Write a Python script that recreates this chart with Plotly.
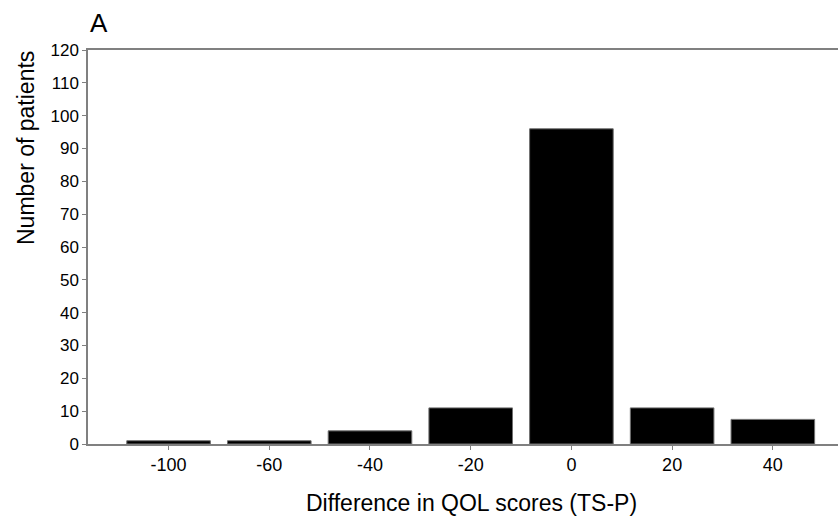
import plotly.graph_objects as go

categories = ["-100", "-60", "-40", "-20", "0", "20", "40"]
counts = [1, 1, 4, 11, 96, 11, 7.5]
y_ticks = list(range(0, 121, 10))

fig = go.Figure()
fig.add_trace(go.Bar(
    x=categories, y=counts, width=0.83,
    marker=dict(color="black", line=dict(color="#707070", width=1)),
))

W, H = 838, 519
ml, mr, mt, mb = 88, 0, 50, 75
pw, ph = W - ml - mr, H - mt - mb
fig.update_layout(
    width=W, height=H,
    margin=dict(l=ml, r=mr, t=mt, b=mb),
    plot_bgcolor="white", paper_bgcolor="white",
    showlegend=False,
    font=dict(family="Liberation Sans, Arial, sans-serif", color="black", size=16),
    xaxis=dict(
        type="category", range=[-0.80, 6.647],
        showline=True, linecolor="#808080", linewidth=1.5, mirror=True,
        ticks="outside", ticklen=4, tickcolor="#808080",
        showgrid=False, zeroline=False,
        tickfont=dict(size=18),
    ),
    yaxis=dict(
        range=[0, 120], tickvals=y_ticks,
        showline=True, linecolor="#808080", linewidth=1.5,
        ticks="outside", ticklen=4, tickcolor="#808080",
        showgrid=False, zeroline=False,
        tickfont=dict(size=17),
    ),
    annotations=[
        dict(text="A", xref="paper", yref="paper", x=0.0, y=1.0, yshift=27,
             xanchor="left", yanchor="middle", showarrow=False,
             font=dict(size=26)),
        dict(text="Difference in QOL scores (TS-P)", xref="paper", yref="paper",
             x=(471 - ml) / pw, y=0, yshift=-59,
             xanchor="center", yanchor="middle", showarrow=False,
             font=dict(size=23)),
        dict(text="Number of patients", xref="paper", yref="paper",
             x=0, xshift=26 - ml, y=(444 - 148) / ph, textangle=-90,
             xanchor="center", yanchor="middle", showarrow=False,
             font=dict(size=23)),
    ],
)
fig.write_html("out.html")
